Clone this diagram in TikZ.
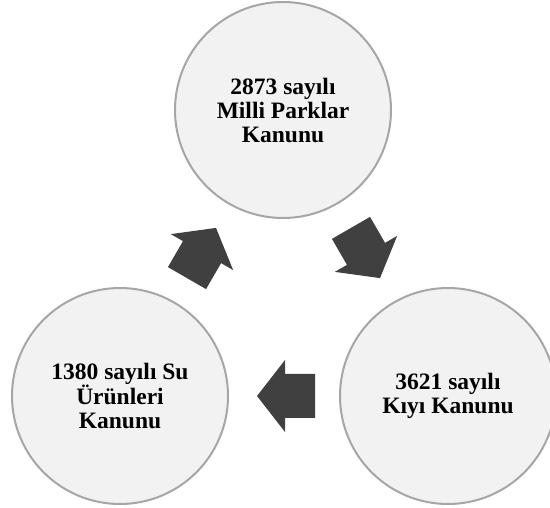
\documentclass[tikz,border=0pt]{standalone}
\usepackage{fontspec}
\setmainfont{Liberation Serif}
\usetikzlibrary{calc}
\definecolor{circfill}{HTML}{F2F2F2}
\definecolor{circline}{HTML}{A6A6A6}
\definecolor{arrowgray}{HTML}{404040}
\tikzset{
  lawcircle/.style={circle, fill=circfill, draw=circline, line width=2pt,
    minimum size=216pt, inner sep=0pt, align=center,
    font=\fontsize{23.5pt}{24pt}\selectfont\bfseries},
  blockarrow/.style={fill=arrowgray, draw=none}
}
\begin{document}
\begin{tikzpicture}[x=1pt, y=-1pt]
\useasboundingbox (0,0) rectangle (550,508);
\node[lawcircle] (top) at (283,110) {2873 sayılı\\Milli Parklar\\Kanunu};
\node[lawcircle] (left) at (120,396) {1380 sayılı Su\\Ürünleri\\Kanunu};
\node[lawcircle] (right) at (448,396) {3621 sayılı\\Kıyı Kanunu};
\coordinate (m1) at ($(left.center)!0.5!(top.center)$);
\coordinate (m2) at ($(top.center)!0.5!(right.center)$);
\coordinate (m3) at ($(right.center)!0.5!(left.center)+(2,0)$);
\fill[blockarrow, shift={(m1)}, rotate=60]
  (-29,-22) -- (1,-22) -- (1,-36) -- (29,0) -- (1,36) -- (1,22) -- (-29,22) -- cycle;
\fill[blockarrow, shift={(m2)}, rotate=-60]
  (-29,-22) -- (1,-22) -- (1,-36) -- (29,0) -- (1,36) -- (1,22) -- (-29,22) -- cycle;
\fill[blockarrow, shift={(m3)}, rotate=180]
  (-29,-22) -- (1,-22) -- (1,-36) -- (29,0) -- (1,36) -- (1,22) -- (-29,22) -- cycle;
\end{tikzpicture}
\end{document}
